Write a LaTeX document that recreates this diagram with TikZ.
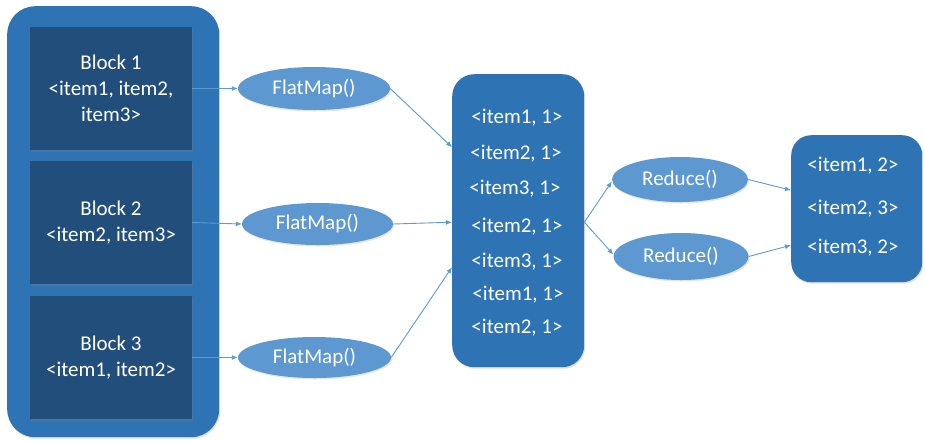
\documentclass[tikz,border=0pt]{standalone}
\usepackage{fontspec}
\setmainfont{Carlito}
\usetikzlibrary{arrows.meta,shadows}
\definecolor{outerblue}{HTML}{2E74B5}
\definecolor{darkblue}{HTML}{224E7B}
\definecolor{lightblue}{HTML}{5D99D0}
\definecolor{linecol}{HTML}{5B9BD5}
\tikzset{
  container/.style={fill=outerblue, draw=none, drop shadow={opacity=0.25, shadow xshift=1pt, shadow yshift=-1.5pt}},
  block/.style={fill=darkblue, draw=none, minimum width=162pt, minimum height=123pt, text=white, align=center, font=\fontsize{21}{26}\selectfont, drop shadow={opacity=0.3, shadow xshift=1pt, shadow yshift=-1.5pt}},
  op/.style={ellipse, fill=lightblue, draw=none, text=white, inner sep=0pt, font=\fontsize{21}{25}\selectfont, drop shadow={opacity=0.2, shadow xshift=1pt, shadow yshift=-1.5pt}},
  item/.style={text=white, inner sep=0pt, font=\fontsize{21}{25}\selectfont},
  conn/.style={draw=linecol, line width=0.9pt, -{Latex[length=6pt,width=5pt]}},
}
\usetikzlibrary{shapes.geometric}
\begin{document}
\begin{tikzpicture}[x=1pt,y=-1pt]
\useasboundingbox (0,0) rectangle (925,440);
% left container
\node[container, rounded corners=28pt, minimum width=212pt, minimum height=431pt, anchor=north west] (left) at (7,6) {};
\node[block] (b1) at (111,88.5) {Block 1\\\textless item1, item2,\\item3\textgreater};
\node[block] (b2) at (111,222.5) {Block 2\\\textless item2, item3\textgreater};
\node[block] (b3) at (111,357.5) {Block 3\\\textless item1, item2\textgreater};
% flatmap
\node[op, minimum width=152pt, minimum height=43pt] (f1) at (314,88.5) {FlatMap()};
\node[op, minimum width=151pt, minimum height=42pt] (f2) at (317.5,224) {FlatMap()};
\node[op, minimum width=153pt, minimum height=41pt] (f3) at (314.5,357.5) {FlatMap()};
% middle box
\node[container, rounded corners=22pt, minimum width=132pt, minimum height=293pt, anchor=north west] (mid) at (452,74) {};
\node[item] (m1) at (517,118) {\textless item1, 1\textgreater};
\node[item] (m2) at (516,154) {\textless item2, 1\textgreater};
\node[item] (m3) at (515,189) {\textless item3, 1\textgreater};
\node[item] (m4) at (517,227) {\textless item2, 1\textgreater};
\node[item] (m5) at (517,262) {\textless item3, 1\textgreater};
\node[item] (m6) at (518,295) {\textless item1, 1\textgreater};
\node[item] (m7) at (517,328) {\textless item2, 1\textgreater};
% reduce
\node[op, minimum width=136pt, minimum height=45pt] (r1) at (680,179.5) {Reduce()};
\node[op, minimum width=135pt, minimum height=47pt] (r2) at (681,256.5) {Reduce()};
% right box
\node[container, rounded corners=20pt, minimum width=131pt, minimum height=147pt, anchor=north west] (out) at (791,135) {};
\node[item] (o1) at (853,166) {\textless item1, 2\textgreater};
\node[item] (o2) at (853,209) {\textless item2, 3\textgreater};
\node[item] (o3) at (853,248) {\textless item3, 2\textgreater};
% connectors
\draw[conn] (b1.east) -- (f1.west);
\draw[conn] (b2.east) -- (f2.west);
\draw[conn] (b3.east) -- (f3.west);
\draw[conn] (f1.east) -- ([yshift=73.5pt]mid.west);
\draw[conn] (f2.east) -- ([yshift=-1.5pt]mid.west);
\draw[conn] (f3.east) -- ([yshift=-46.5pt]mid.west);
\draw[conn] ([yshift=-1.5pt]mid.east) -- ([yshift=-2pt]r1.west);
\draw[conn] ([yshift=-1.5pt]mid.east) -- ([yshift=2pt]r2.west);
\draw[conn] (r1.east) -- ([yshift=18.5pt]out.west);
\draw[conn] (r2.east) -- ([yshift=-36.5pt]out.west);
\end{tikzpicture}
\end{document}
